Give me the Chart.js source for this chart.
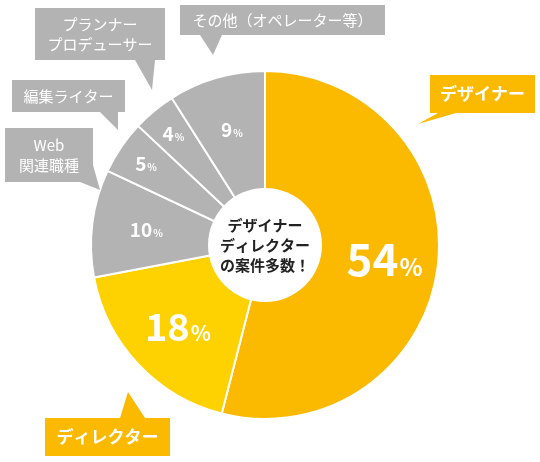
<!DOCTYPE html>
<html><head><meta charset="utf-8">
<script src="https://cdn.jsdelivr.net/npm/chart.js@4/dist/chart.umd.min.js"></script>
<style>html,body{margin:0;padding:0;background:#fff}#w{width:540px;height:462px}</style>
</head><body><div id="w"><canvas id="c"></canvas></div>
<script>
const categories = ["デザイナー","ディレクター","Web\n関連職種","編集ライター","プランナー\nプロデューサー","その他（オペレーター等）"];
const values = [54,18,10,5,4,9];
const colors = ["#FBB900","#FDD200","#B3B3B3","#B3B3B3","#B3B3B3","#B3B3B3"];
const centerText = ["デザイナー","ディレクター","の案件多数！"];
const FONT = '"Noto Sans CJK JP","Noto Sans",sans-serif';

// callout geometry: box x,y,w,h and tail points
const callouts = [
  {box:[430,75,105,38], tail:[[438,113],[418,124],[456,113]], bg:"#FBB900"},
  {box:[45,418,125,38], tail:[[120,418],[128,392],[145,418]], bg:"#FBB900"},
  {box:[5,128,88,54], tail:[[80,182],[100,190],[93,165]], bg:"#B3B3B3"},
  {box:[12,80,113,32], tail:[[100,112],[118,130],[118,112]], bg:"#B3B3B3"},
  {box:[35,8,130,52], tail:[[135,60],[152,90],[155,60]], bg:"#B3B3B3"},
  {box:[180,5,205,30], tail:[[200,35],[213,55],[222,35]], bg:"#B3B3B3"}
];

const plugin = {
  id:'deco',
  afterDatasetsDraw(chart){
    const ctx = chart.ctx;
    const meta = chart.getDatasetMeta(0);
    const a0 = meta.data[0];
    const cx=a0.x, cy=a0.y, R=a0.outerRadius;
    // center circle
    ctx.save();
    ctx.beginPath(); ctx.arc(cx,cy,57,0,Math.PI*2); ctx.fillStyle="#fff"; ctx.fill();
    ctx.fillStyle="#222"; ctx.textAlign="center"; ctx.textBaseline="middle";
    ctx.font="bold 15px "+FONT;
    centerText.forEach((t,i)=>ctx.fillText(t,cx,cy-20+i*20));
    // percentages
    meta.data.forEach((arc,i)=>{
      const mid=(arc.startAngle+arc.endAngle)/2;
      const f = values[i]<=5?0.83:0.69;
      const x=cx+Math.cos(mid)*R*f, y=cy+Math.sin(mid)*R*f;
      const big = values[i]>=50?44:values[i]>=15?38:19;
      ctx.fillStyle="#fff"; ctx.textBaseline="alphabetic";
      ctx.font="bold "+big+"px "+FONT;
      const s=String(values[i]);
      const w1=ctx.measureText(s).width;
      ctx.font="bold "+Math.round(big*0.55)+"px "+FONT;
      const w2=ctx.measureText("%").width;
      const x0=x-(w1+w2)/2, by=y+big*0.36;
      ctx.font="bold "+big+"px "+FONT; ctx.textAlign="left";
      ctx.fillText(s,x0,by);
      ctx.font="bold "+Math.round(big*0.55)+"px "+FONT;
      ctx.fillText("%",x0+w1+1,by);
    });
    // callouts
    callouts.forEach((c,i)=>{
      const [x,y,w,h]=c.box;
      ctx.fillStyle=c.bg;
      ctx.beginPath(); ctx.rect(x,y,w,h); ctx.fill();
      ctx.beginPath(); ctx.moveTo(...c.tail[0]); ctx.lineTo(...c.tail[1]); ctx.lineTo(...c.tail[2]); ctx.closePath(); ctx.fill();
      ctx.fillStyle="#fff"; ctx.textAlign="center"; ctx.textBaseline="middle";
      ctx.font=(i<2?"bold 17px ":"15px ")+FONT;
      const lines=categories[i].split("\n");
      lines.forEach((t,k)=>ctx.fillText(t,x+w/2,y+h/2+(k-(lines.length-1)/2)*20));
    });
    ctx.restore();
  }
};

new Chart(document.getElementById('c'),{
  type:'pie',
  data:{labels:categories,datasets:[{data:values,backgroundColor:colors,borderColor:"#fff",borderWidth:2}]},
  options:{responsive:true,maintainAspectRatio:false,animation:false,
    layout:{padding:{top:70,bottom:42,left:90,right:100}},
    plugins:{legend:{display:false},tooltip:{enabled:false}}},
  plugins:[plugin]
});
</script></body></html>
